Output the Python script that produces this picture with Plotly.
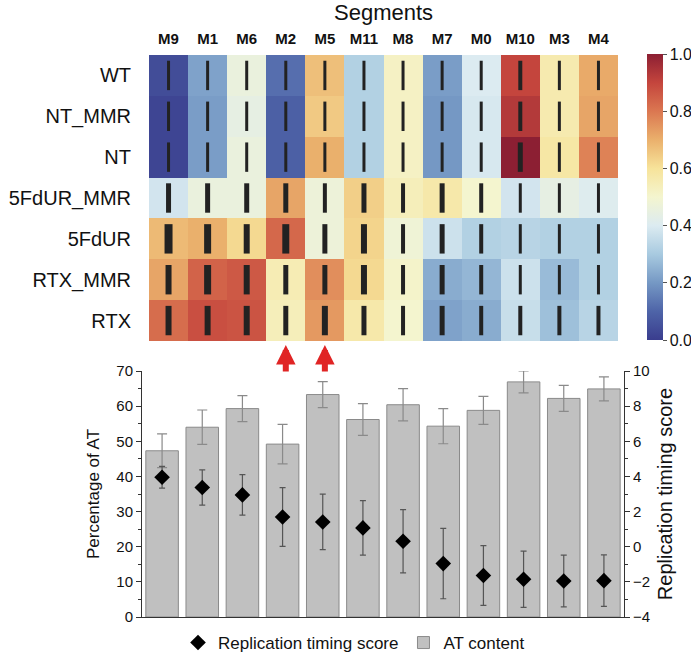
import plotly.graph_objects as go

# ---------------- data ----------------
segments = ["M9", "M1", "M6", "M2", "M5", "M11", "M8", "M7", "M0", "M10", "M3", "M4"]
conditions = ["WT", "NT_MMR", "NT", "5FdUR_MMR", "5FdUR", "RTX_MMR", "RTX"]

heat_wt        = [0.04, 0.22, 0.46, 0.12, 0.67, 0.32, 0.52, 0.21, 0.40, 0.90, 0.56, 0.71]
heat_nt_mmr    = [0.02, 0.21, 0.44, 0.09, 0.65, 0.32, 0.52, 0.20, 0.39, 0.93, 0.56, 0.72]
heat_nt        = [0.02, 0.21, 0.46, 0.09, 0.70, 0.32, 0.52, 0.20, 0.39, 1.00, 0.58, 0.78]
heat_5fdur_mmr = [0.38, 0.46, 0.46, 0.72, 0.47, 0.64, 0.54, 0.57, 0.50, 0.38, 0.44, 0.41]
heat_5fdur     = [0.68, 0.70, 0.62, 0.83, 0.47, 0.63, 0.48, 0.37, 0.32, 0.33, 0.32, 0.32]
heat_rtx_mmr   = [0.72, 0.84, 0.86, 0.55, 0.76, 0.62, 0.51, 0.24, 0.26, 0.37, 0.27, 0.32]
heat_rtx       = [0.82, 0.88, 0.87, 0.54, 0.74, 0.57, 0.50, 0.22, 0.24, 0.36, 0.28, 0.33]

# widths of the black glyph in each heatmap cell
glyph_wt        = [3, 3, 3, 3, 3, 3, 3, 3, 3, 4, 3, 3]
glyph_nt_mmr    = [3, 3, 3, 3, 3, 3, 3, 3, 3, 4, 3, 3]
glyph_nt        = [3, 3, 3, 3, 3, 3, 3, 3, 3, 5, 3, 3]
glyph_5fdur_mmr = [5, 5, 5, 5, 4, 5, 4, 5, 4, 3, 3, 3]
glyph_5fdur     = [8, 7, 6, 7, 5, 6, 4, 5, 4, 3, 3, 3]
glyph_rtx_mmr   = [6, 7, 6, 5, 5, 6, 4, 5, 4, 3, 3, 3]
glyph_rtx       = [6, 6, 6, 5, 6, 5, 4, 5, 4, 4, 4, 4]

arrow_segments = ["M2", "M5"]

at_content = [47.3, 54.0, 59.3, 49.2, 63.3, 56.2, 60.4, 54.3, 58.8, 66.9, 62.2, 64.9]
at_err     = [4.8, 4.9, 3.7, 5.6, 3.7, 4.5, 4.6, 5.0, 4.0, 3.1, 3.7, 3.4]
rt_score   = [3.95, 3.37, 2.95, 1.69, 1.41, 1.07, 0.31, -0.96, -1.64, -1.85, -1.95, -1.93]
rt_err     = [0.62, 1.0, 1.15, 1.67, 1.58, 1.55, 1.8, 2.0, 1.7, 1.6, 1.47, 1.47]

left_ticks = [0, 10, 20, 30, 40, 50, 60, 70]
right_ticks = [-4, -2, 0, 2, 4, 6, 8, 10]
cbar_ticks = [0.0, 0.2, 0.4, 0.6, 0.8, 1.0]

heat_rows = [heat_wt, heat_nt_mmr, heat_nt, heat_5fdur_mmr, heat_5fdur, heat_rtx_mmr, heat_rtx]
glyph_rows = [glyph_wt, glyph_nt_mmr, glyph_nt, glyph_5fdur_mmr, glyph_5fdur, glyph_rtx_mmr, glyph_rtx]

colorscale = [
    [0.0, "#3a3d8e"], [0.1, "#4e64a8"], [0.2, "#7598c4"], [0.3, "#a8cae0"],
    [0.4, "#dcebf1"], [0.5, "#f4f5cf"], [0.6, "#f7e39a"], [0.7, "#eab06c"],
    [0.8, "#db7751"], [0.9, "#c4453d"], [1.0, "#8c1f33"],
]

FONT = "Liberation Sans, Arial, sans-serif"
W, H = 691, 657

def px_x(v):
    return v / W

def px_y(v):
    return 1 - v / H

n_seg = len(segments)
n_cond = len(conditions)

fig = go.Figure()

# heatmap
fig.add_trace(go.Heatmap(
    z=heat_rows, x=segments, y=conditions, colorscale=colorscale, zmin=0, zmax=1,
    xaxis="x", yaxis="y", showscale=True, zsmooth=False,
    colorbar=dict(
        x=px_x(647), xanchor="left", xpad=0, y=px_y(54), yanchor="top", ypad=0,
        len=286 / H, lenmode="fraction",
        thickness=16, outlinewidth=0, tickvals=cbar_ticks, ticktext=[f"{t:.1f}" for t in cbar_ticks],
        ticks="outside", ticklen=4, tickcolor="#555", tickfont=dict(family=FONT, size=16, color="#111"),
    ),
    showlegend=False, hoverinfo="skip",
))

# glyphs in the heatmap cells
gx, gy, gw = [], [], []
for ci, cond in enumerate(conditions):
    for si, seg in enumerate(segments):
        gx.append(seg)
        gy.append(cond)
        gw.append(glyph_rows[ci][si])
fig.add_trace(go.Scatter(
    x=gx, y=gy, mode="markers", xaxis="x", yaxis="y",
    marker=dict(symbol="line-ns", size=21, color="#222", line=dict(width=gw, color="#222")),
    showlegend=False, hoverinfo="skip",
))

# bars (AT content)
fig.add_trace(go.Bar(
    x=segments, y=at_content, xaxis="x2", yaxis="y2", name="AT content",
    marker=dict(color="#c0c0c0", line=dict(color="#8a8a8a", width=1)),
    error_y=dict(type="data", array=at_err, color="#8a8a8a", thickness=1.2, width=5),
    legendrank=2,
))

# replication timing score
fig.add_trace(go.Scatter(
    x=segments, y=rt_score, xaxis="x2", yaxis="y3", mode="markers", name="Replication timing score",
    marker=dict(symbol="diamond", size=12, color="black"),
    error_y=dict(type="data", array=rt_err, color="#555", thickness=1.2, width=3),
    legendrank=1,
))

# red arrows
for seg in arrow_segments:
    fig.add_annotation(
        x=seg, xref="x", y=px_y(345), yref="paper", ax=0, ay=28, axref="pixel", ayref="pixel",
        showarrow=True, arrowhead=2, arrowsize=0.65, arrowwidth=6, arrowcolor="#e02424", text="",
    )

fig.add_annotation(
    x=px_x(383.5), y=px_y(12), xref="paper", yref="paper", text="Segments", showarrow=False,
    font=dict(family=FONT, size=22, color="#111"), xanchor="center", yanchor="middle",
)

fig.update_layout(
    width=W, height=H, margin=dict(l=0, r=0, t=0, b=0, autoexpand=False),
    paper_bgcolor="white", plot_bgcolor="white",
    font=dict(family=FONT, color="#111"),
    xaxis=dict(
        domain=[px_x(149), px_x(618)], anchor="y", side="top", type="category",
        range=[-0.5, n_seg - 0.5],
        showgrid=False, zeroline=False, showline=False, ticks="",
        tickfont=dict(family=FONT, size=15, color="#111", weight="bold"), ticklabelstandoff=7,
    ),
    yaxis=dict(
        domain=[px_y(341), px_y(55)], anchor="x", type="category",
        range=[n_cond - 0.5, -0.5],
        showgrid=False, zeroline=False, showline=False, ticks="",
        tickfont=dict(family=FONT, size=20, color="#111"), ticklabelstandoff=17,
    ),
    xaxis2=dict(
        domain=[px_x(142), px_x(624)], anchor="y2", type="category",
        range=[-0.5, n_seg - 0.5],
        showgrid=False, zeroline=False, showline=True, linecolor="#333", linewidth=1,
        showticklabels=False, ticks="",
    ),
    yaxis2=dict(
        domain=[px_y(617), px_y(371)], anchor="x2", range=[0, 70],
        tickvals=left_ticks, showgrid=False, zeroline=False, showline=True, linecolor="#333", linewidth=1,
        ticks="outside", ticklen=5, tickcolor="#333",
        minor=dict(ticks="outside", ticklen=3, dtick=5, tickcolor="#333"),
        tickfont=dict(family=FONT, size=15, color="#111"),
        title=dict(text="Percentage of AT", font=dict(family=FONT, size=17, color="#111"), standoff=12),
    ),
    yaxis3=dict(
        overlaying="y2", side="right", anchor="x2", range=[-4, 10],
        tickvals=right_ticks, showgrid=False, zeroline=False, showline=True, linecolor="#333", linewidth=1,
        ticks="outside", ticklen=5, tickcolor="#333",
        minor=dict(ticks="outside", ticklen=3, dtick=1, tickcolor="#333"),
        tickfont=dict(family=FONT, size=15, color="#111"),
        title=dict(text="Replication timing score", font=dict(family=FONT, size=20, color="#111"), standoff=8),
    ),
    bargap=0.19,
    legend=dict(
        orientation="h", x=px_x(354), xanchor="center", y=px_y(643), yanchor="middle",
        font=dict(family=FONT, size=17, color="#111"), bgcolor="rgba(0,0,0,0)",
    ),
)

fig.write_html("out.html")
